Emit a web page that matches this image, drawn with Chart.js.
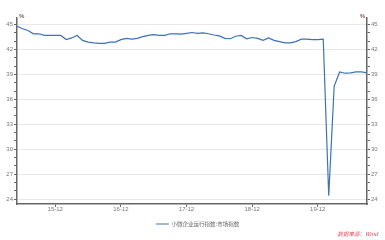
<!DOCTYPE html>
<html>
<head>
<meta charset="utf-8">
<script src="https://cdn.jsdelivr.net/npm/chart.js@4"></script>
<style>
  html, body { margin: 0; padding: 0; background: #fff; }
  #wrap { position: relative; width: 385px; height: 240px; }
</style>
</head>
<body>
<div id="wrap"><canvas id="smeChart" width="385" height="240"></canvas></div>
<script>
// months, 2015-05 .. 2020-09
let months = [
    '2015-05','2015-06','2015-07','2015-08','2015-09','2015-10','2015-11','2015-12',
    '2016-01','2016-02','2016-03','2016-04','2016-05','2016-06','2016-07','2016-08','2016-09','2016-10','2016-11','2016-12',
    '2017-01','2017-02','2017-03','2017-04','2017-05','2017-06','2017-07','2017-08','2017-09','2017-10','2017-11','2017-12',
    '2018-01','2018-02','2018-03','2018-04','2018-05','2018-06','2018-07','2018-08','2018-09','2018-10','2018-11','2018-12',
    '2019-01','2019-02','2019-03','2019-04','2019-05','2019-06','2019-07','2019-08','2019-09','2019-10','2019-11','2019-12',
    '2020-01','2020-02','2020-03','2020-04','2020-05','2020-06','2020-07','2020-08','2020-09'
];

// 小微企业运行指数:市场指数
let marketIndex = [
    44.8, 44.5, 44.3, 43.9, 43.9, 43.7, 43.7, 43.7,
    43.7, 43.2, 43.4, 43.7, 43.1, 42.9, 42.8, 42.75, 42.75, 42.9, 42.9, 43.2,
    43.35, 43.25, 43.35, 43.55, 43.7, 43.8, 43.7, 43.7, 43.9, 43.9, 43.85, 43.95,
    44.05, 43.95, 44.0, 43.9, 43.75, 43.65, 43.35, 43.3, 43.6, 43.7, 43.3, 43.45,
    43.35, 43.1, 43.4, 43.1, 42.95, 42.8, 42.8, 42.95, 43.25, 43.25, 43.2, 43.2,
    43.25, 24.4, 37.6, 39.3, 39.15, 39.2, 39.3, 39.3, 39.2
];

// y ticks: every 1 has a tick mark, every 3 has a label and a grid line
let yTickValues = [24, 25, 26, 27, 28, 29, 30, 31, 32, 33, 34, 35, 36, 37, 38, 39, 40, 41, 42, 43, 44, 45];
let yLabelValues = [24, 27, 30, 33, 36, 39, 42, 45];

let seriesName = '小微企业运行指数:市场指数';
let sourceText = '数据来源：Wind';

let lineColor = '#3d72b6';
let axisColor = '#666666';
let labelColor = '#777777';

function isDec(i) {
    return months[i] && months[i].slice(5) === '12';
}

function yAxis(pos, width) {
    return {
        type: 'linear',
        position: pos,
        display: true,
        min: 23.4,
        max: 45.8,
        afterBuildTicks: function(scale) {
            scale.ticks = yTickValues.map(function(v) { return { value: v }; });
        },
        afterFit: function(scale) {
            scale.width = width;
        },
        border: { display: true, color: axisColor, width: 1.5 },
        grid: {
            drawOnChartArea: pos === 'left',
            color: function(ctx) {
                return ctx.tick && yLabelValues.indexOf(ctx.tick.value) >= 0 ? '#e8e8e8' : 'transparent';
            },
            tickColor: axisColor,
            tickLength: 3,
            tickWidth: 1
        },
        ticks: {
            autoSkip: false,
            padding: 1,
            color: labelColor,
            font: { family: 'Liberation Sans', size: 6 },
            callback: function(v) {
                return yLabelValues.indexOf(v) >= 0 ? String(v) : '';
            }
        }
    };
}

// "%" unit labels at the top of both axes, and nudge legend / source line
let unitPlugin = {
    id: 'unitLabels',
    afterLayout: function(chart) {
        chart.boxes.forEach(function(b) {
            if (b === chart.legend) {
                b.left += 10;
            } else if (b.options && b.options.text === sourceText) {
                b.right -= 7;
            }
        });
    },
    afterDraw: function(chart) {
        let ctx = chart.ctx;
        let area = chart.chartArea;
        ctx.save();
        ctx.fillStyle = '#8a5a5a';
        ctx.font = 'bold 6px "Liberation Sans"';
        ctx.textBaseline = 'bottom';
        ctx.textAlign = 'left';
        ctx.fillText('%', area.left + 2, area.top + 1);
        ctx.textAlign = 'right';
        ctx.fillText('%', area.right - 2, area.top + 1);
        ctx.restore();
    }
};

let ctx = document.getElementById('smeChart').getContext('2d');
let smeChart = new Chart(ctx, {
    type: 'line',
    data: {
        labels: months,
        datasets: [{
            label: seriesName,
            data: marketIndex,
            borderColor: lineColor,
            backgroundColor: lineColor,
            borderWidth: 1.2,
            pointRadius: 0,
            tension: 0,
            yAxisID: 'y'
        }]
    },
    options: {
        responsive: false,
        animation: false,
        layout: { padding: { top: 18, left: 0, right: 0, bottom: 0 } },
        scales: {
            x: {
                type: 'category',
                offset: false,
                afterFit: function(scale) {
                    scale.height = 17.25;
                },
                border: { display: true, color: axisColor, width: 1.5 },
                grid: {
                    drawOnChartArea: false,
                    color: 'transparent',
                    tickColor: function(c) { return isDec(c.index) ? axisColor : 'transparent'; },
                    tickLength: 3
                },
                ticks: {
                    autoSkip: false,
                    maxRotation: 0,
                    padding: -1,
                    color: labelColor,
                    font: { family: 'Liberation Sans', size: 6 },
                    callback: function(v, i) {
                        return isDec(i) ? months[i].slice(2, 4) + '-12' : '';
                    }
                }
            },
            y: yAxis('left', 17),
            y2: yAxis('right', 18)
        },
        plugins: {
            legend: {
                position: 'bottom',
                labels: {
                    boxWidth: 13,
                    boxHeight: 0,
                    padding: 0,
                    color: '#666',
                    font: { family: 'Noto Sans CJK SC', size: 5.5 }
                }
            },
            subtitle: {
                display: true,
                text: sourceText,
                position: 'bottom',
                align: 'end',
                color: '#e8435a',
                padding: { top: -6.05, bottom: 2.7 },
                font: { family: 'Noto Sans CJK SC', size: 5.5, style: 'italic' }
            },
            tooltip: { enabled: false }
        }
    },
    plugins: [unitPlugin]
});
</script>
</body>
</html>
